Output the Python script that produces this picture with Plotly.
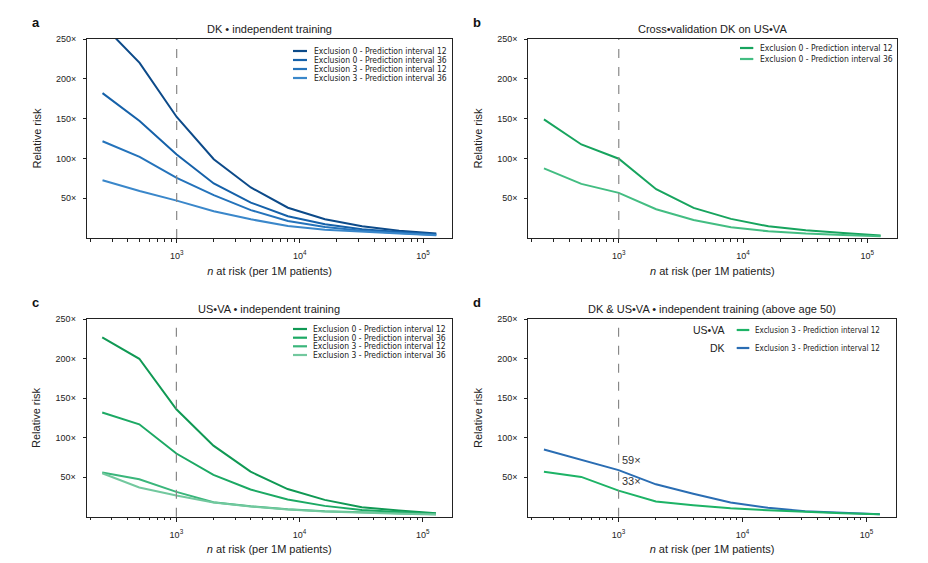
import math
import plotly.graph_objects as go

# browser body margin shifts the figure by 8px; the figure is sized so it fills the window exactly
OFF = 8
FW, FH = 928 - 2 * OFF, 563 - 2 * OFF

# ---------------- data ----------------
n_at_risk = [250, 500, 1000, 2000, 4000, 8000, 16000, 32000, 64000, 128000]

# panel a: DK independent training
dk_ex0_pi12 = [268, 220, 152, 99, 63.5, 38, 23.5, 14.7, 9, 5.5]
dk_ex0_pi36 = [182, 147, 105, 68.5, 44.5, 27.3, 17.2, 11, 7.6, 4.6]
dk_ex3_pi12 = [121.5, 102, 75.6, 53.8, 35, 21.4, 13.9, 9.2, 6.3, 3.8]
dk_ex3_pi36 = [72.5, 59, 47, 33.6, 23.5, 15.1, 10.5, 7.6, 5.5, 3.4]

# panel b: cross-validation DK on US-VA
cv_ex0_pi12 = [149, 117.5, 99.6, 61.3, 37.8, 24, 14.7, 9.7, 6.3, 3.2]
cv_ex0_pi36 = [87.5, 68, 56.7, 36.1, 22.7, 13.4, 8.4, 5.5, 3.8, 2.1]

# panel c: US-VA independent training
va_ex0_pi12 = [227, 200, 136, 90, 57, 35, 21.3, 12, 7.8, 4.4]
va_ex0_pi36 = [132, 117, 80, 53, 34.4, 21.7, 13.7, 8.6, 6, 3.6]
va_ex3_pi12 = [56, 47.5, 31.4, 18.4, 13.3, 9.5, 7, 5.3, 4.4, 3.2]
va_ex3_pi36 = [55, 37, 26.8, 18, 12.9, 9, 6.5, 4.9, 3.6, 2.7]

# panel d: above age 50, exclusion 3, PI 12
d_va = [56.8, 50.4, 33, 19.2, 14.6, 10.8, 8.2, 6.1, 4.4, 3.2]
d_dk = [85, 72, 59, 41, 29, 18, 11.2, 7, 4.9, 3.2]

legend_labels4 = ["Exclusion 0 - Prediction interval 12", "Exclusion 0 - Prediction interval 36",
                  "Exclusion 3 - Prediction interval 12", "Exclusion 3 - Prediction interval 36"]
legend_labels_c = ["Exclusion 0 - Prediction interval 12", "Exclusion 0 - Prediction interval 36",
                   "Exclusion 3 - Prediction interval 12", "Exclusion 3 - Prediction interval 36"]
legend_labels_b = ["Exclusion 0 - Prediction interval 12", "Exclusion 0 - Prediction interval 36"]
legend_label_d = "Exclusion 3 - Prediction interval 12"

titles = ["DK \u2022 independent training", "Cross\u2022validation DK on US\u2022VA",
          "US\u2022VA \u2022 independent training", "DK & US\u2022VA \u2022 independent training (above age 50)"]
panel_letters = ["a", "b", "c", "d"]

y_tickvals = [50, 100, 150, 200, 250]
y_ticktext = [f"{v}\u00d7" for v in y_tickvals]
x_tickvals = [1e3, 1e4, 1e5]
x_ticktext = ["10<sup>3</sup>", "10<sup>4</sup>", "10<sup>5</sup>"]
x_minor = [m * 10 ** e for e in (2, 3, 4) for m in range(2, 10)]
ref_n = 1000

blues = ["#0c4a89", "#1561a9", "#2473bb", "#3a87ca"]
greens_c = ["#109954", "#1ca964", "#3ab67b", "#72c89e"]
greens_b = ["#17a45e", "#43bd82"]
d_green = "#1db366"
d_blue = "#2a6db3"

FONT = "Liberation Sans, Arial, sans-serif"
NARROW = "Liberation Sans Narrow, Arial Narrow, DejaVu Sans Condensed, sans-serif"

# panel pixel boxes in window pixels (left, right, top, bottom)
boxes = [(87, 452, 39, 238), (528.3, 896.5, 39, 238),
         (86.7, 451.7, 319.3, 516.7), (528.3, 895.7, 319.3, 516.7)]

def px(x):
    return (x - OFF) / FW

def py(y):
    return 1 - (y - OFF) / FH

fig = go.Figure()

panels = [
    [(dk_ex0_pi12, blues[0]), (dk_ex0_pi36, blues[1]), (dk_ex3_pi12, blues[2]), (dk_ex3_pi36, blues[3])],
    [(cv_ex0_pi12, greens_b[0]), (cv_ex0_pi36, greens_b[1])],
    [(va_ex0_pi12, greens_c[0]), (va_ex0_pi36, greens_c[1]), (va_ex3_pi12, greens_c[2]), (va_ex3_pi36, greens_c[3])],
    [(d_dk, d_blue), (d_va, d_green)],
]

for i, series in enumerate(panels):
    xa = "x" if i == 0 else f"x{i+1}"
    ya = "y" if i == 0 else f"y{i+1}"
    for vals, col in series:
        fig.add_trace(go.Scatter(x=n_at_risk, y=vals, mode="lines", xaxis=xa, yaxis=ya,
                                 line=dict(color=col, width=2), showlegend=False, hoverinfo="skip"))

annotations = []
shapes = []
for i, (l, r, t, b) in enumerate(boxes):
    suffix = "" if i == 0 else str(i + 1)
    xkey = "xaxis" + suffix
    ykey = "yaxis" + suffix
    fig.update_layout(**{
        xkey: dict(type="log", range=[2.272, 5.235], domain=[px(l), px(r)], anchor="y" + suffix,
                   automargin=False,
                   tickvals=x_tickvals, ticktext=x_ticktext, ticks="outside", ticklen=4, tickwidth=1,
                   ticklabelstandoff=5,
                   tickcolor="#222", showline=True, linecolor="#222", linewidth=1, mirror=True,
                   showgrid=False, zeroline=False, tickfont=dict(size=9, color="#222", family=FONT),
                   minor=dict(tickvals=x_minor, ticks="outside", ticklen=2.5, tickwidth=1, tickcolor="#222", showgrid=False),
                   title=dict(text="<i>n</i> at risk (per 1M patients)", font=dict(size=11, color="#222", family=FONT), standoff=7)),
        ykey: dict(range=[0, 250], domain=[py(b), py(t)], anchor="x" + suffix,
                   automargin=False,
                   tickvals=y_tickvals, ticktext=y_ticktext, ticks="outside", ticklen=3, tickwidth=1,
                   ticklabelstandoff=5,
                   tickcolor="#222", showline=True, linecolor="#222", linewidth=1, mirror=True,
                   showgrid=False, zeroline=False, tickfont=dict(size=9, color="#222", family=FONT),
                   title=dict(text="Relative risk", font=dict(size=11, color="#222", family=FONT), standoff=12)),
    })
    # title
    annotations.append(dict(text=titles[i], x=(px(l) + px(r)) / 2, y=py(t - 10), xref="paper", yref="paper",
                            xanchor="center", yanchor="middle", showarrow=False,
                            font=dict(size=11, color="#222", family=FONT)))
    # panel letter
    annotations.append(dict(text=f"<b>{panel_letters[i]}</b>", x=px(l - 57), y=py(t - 17), xref="paper", yref="paper",
                            xanchor="left", yanchor="middle", showarrow=False, font=dict(size=13, color="#111", family=FONT)))
    # reference dashed line
    shapes.append(dict(type="line", x0=ref_n, x1=ref_n, y0=0, y1=1, xref="x" + suffix, yref="y" + suffix + " domain",
                       line=dict(color="#888", width=1.2, dash="dash")))

# legends (drawn manually for compact spacing)
def legend_rows(x0, x1, xt, rows, labels, colors, size=8.5):
    for yrow, lab, col in zip(rows, labels, colors):
        shapes.append(dict(type="line", x0=px(x0), x1=px(x1), y0=py(yrow), y1=py(yrow), xref="paper", yref="paper",
                           line=dict(color=col, width=2.2)))
        annotations.append(dict(text=lab, x=px(xt), y=py(yrow), xref="paper", yref="paper", xanchor="left",
                                yanchor="middle", showarrow=False, font=dict(size=size, color="#222", family=NARROW)))

legend_rows(293, 307, 311.5, [51, 60, 69, 78], legend_labels4, blues)
legend_rows(740, 753.3, 757.5, [48, 59], legend_labels_b, greens_b)
legend_rows(293, 307, 311, [329, 337.7, 346.3, 355], legend_labels_c, greens_c)
legend_rows(736.7, 749.3, 753.3, [330, 348], [legend_label_d, legend_label_d], [d_green, d_blue], size=8)
for yrow, lab in [(330, "US\u2022VA"), (348, "DK")]:
    annotations.append(dict(text=lab, x=px(727), y=py(yrow), xref="paper", yref="paper", xanchor="right",
                            yanchor="middle", showarrow=False, font=dict(size=10.5, color="#222", family=FONT)))

# value annotations at reference n in panel d
ref_idx = n_at_risk.index(ref_n)
for vals in (d_dk, d_va):
    annotations.append(dict(text=f"{vals[ref_idx]:.0f}\u00d7", x=math.log10(ref_n), y=vals[ref_idx], xref="x4", yref="y4",
                            xanchor="left", yanchor="middle", xshift=1, yshift=10, showarrow=False,
                            font=dict(size=11, color="#333", family=FONT)))

fig.update_layout(width=FW, height=FH, margin=dict(l=0, r=0, t=0, b=0), paper_bgcolor="white",
                  plot_bgcolor="white", annotations=annotations, shapes=shapes, showlegend=False,
                  font=dict(family=FONT, color="#222"))

fig.write_html("out.html")
